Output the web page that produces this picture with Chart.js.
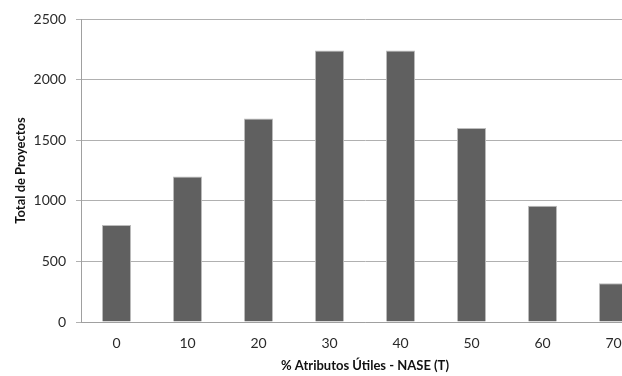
<!DOCTYPE html>
<html>
<head>
<meta charset="utf-8">
<script src="https://cdn.jsdelivr.net/npm/chart.js@4/dist/chart.umd.min.js"></script>
<style>
    html, body { margin: 0; padding: 0; background: #fff; overflow: hidden; }
    #wrap { width: 622px; height: 376px; overflow: hidden; }
    #box { width: 650px; height: 376px; }
</style>
</head>
<body>
<div id="wrap"><div id="box"><canvas id="chart"></canvas></div></div>
<script>
// --- Data ---
const categories = ['0', '10', '20', '30', '40', '50', '60', '70'];
const totals = [800, 1200, 1680, 2240, 2240, 1600, 960, 320];
const yTicks = [0, 500, 1000, 1500, 2000, 2500];

const xTitle = '% Atributos Útiles - NASE (T)';
const yTitle = 'Total de Proyectos';

const ctx = document.getElementById('chart');

new Chart(ctx, {
    type: 'bar',
    data: {
        labels: categories,
        datasets: [{
            label: yTitle,
            data: totals,
            backgroundColor: '#606060',
            borderColor: '#bcbcbc',
            borderWidth: 1,
            borderSkipped: 'bottom',
            categoryPercentage: 1,
            barPercentage: 0.41
        }]
    },
    options: {
        responsive: true,
        maintainAspectRatio: false,
        animation: false,
        layout: {
            padding: { top: 19, right: 1, left: 0, bottom: 0 }
        },
        plugins: {
            legend: { display: false },
            tooltip: { enabled: false }
        },
        scales: {
            x: {
                grid: { display: false, tickLength: 6 },
                border: { display: true, color: '#a0a0a0', width: 1 },
                ticks: {
                    color: '#2a2a2a',
                    font: { family: 'Lato', size: 14 },
                    padding: 7,
                    maxRotation: 0
                },
                title: {
                    display: true,
                    text: xTitle,
                    color: '#111',
                    font: { family: 'Lato', size: 13, weight: 'bold' },
                    padding: { top: 0, bottom: 2 }
                },
                afterFit: (scale) => { scale.height = 54; }
            },
            y: {
                min: 0,
                max: 2500,
                afterBuildTicks: (scale) => {
                    scale.ticks = yTicks.map(v => ({ value: v }));
                },
                grid: { color: '#b0b0b0', tickLength: 5 },
                border: { display: true, color: '#a0a0a0', width: 1 },
                ticks: {
                    color: '#2a2a2a',
                    font: { family: 'Lato', size: 14 },
                    padding: 10,
                    callback: (value) => String(value)
                },
                title: {
                    display: true,
                    text: yTitle,
                    color: '#111',
                    font: { family: 'Lato', size: 13, weight: 'bold' },
                    padding: { top: 13, bottom: 0 }
                },
                afterFit: (scale) => { scale.width = 81; }
            }
        }
    }
});
</script>
</body>
</html>
